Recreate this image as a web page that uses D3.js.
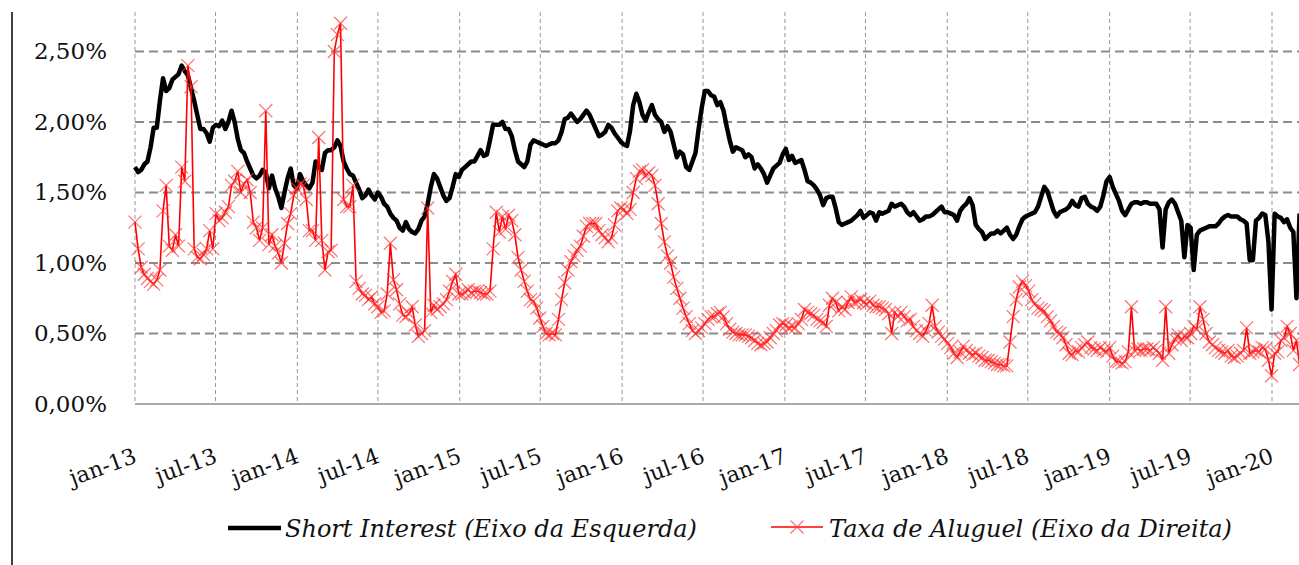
<!DOCTYPE html>
<html>
<head>
<meta charset="utf-8">
<script src="https://cdn.jsdelivr.net/npm/d3@7"></script>
<style>
  body { margin: 0; background: #fff; }
  text { font-family: "DejaVu Serif", serif; fill: #111; }
</style>
</head>
<body>
<div id="chart"></div>
<script>
// weekly observations starting at the first week of 2013
const startDate = new Date(2013, 0, 1);

// Short Interest (left axis), %
const shortInterest = [
  1.68,1.645,1.66,1.70,1.72,1.82,1.96,1.96,2.15,2.31,
  2.22,2.24,2.30,2.32,2.34,2.40,2.36,2.33,2.24,2.15,
  2.05,1.95,1.95,1.92,1.86,1.96,1.98,1.97,2.01,1.95,
  2.00,2.08,2.00,1.88,1.80,1.78,1.72,1.67,1.62,1.60,
  1.62,1.66,1.64,1.53,1.62,1.53,1.47,1.39,1.50,1.60,
  1.67,1.55,1.53,1.63,1.58,1.55,1.53,1.57,1.72,1.68,
  1.66,1.78,1.80,1.80,1.82,1.87,1.83,1.72,1.67,1.63,
  1.62,1.57,1.52,1.46,1.48,1.52,1.48,1.45,1.50,1.47,
  1.42,1.40,1.35,1.32,1.30,1.25,1.23,1.29,1.24,1.22,
  1.21,1.24,1.30,1.33,1.42,1.54,1.63,1.60,1.54,1.48,
  1.44,1.46,1.54,1.63,1.61,1.66,1.68,1.70,1.72,1.72,
  1.76,1.80,1.76,1.77,1.87,1.98,1.98,1.98,2.00,1.95,
  1.95,1.90,1.80,1.72,1.70,1.68,1.72,1.84,1.87,1.86,
  1.85,1.84,1.83,1.84,1.85,1.85,1.87,1.93,2.02,2.03,
  2.06,2.03,2.00,2.02,2.05,2.08,2.05,2.00,1.95,1.90,
  1.91,1.93,1.98,1.96,1.92,1.89,1.86,1.84,1.83,1.94,
  2.12,2.20,2.14,2.05,2.01,2.07,2.12,2.05,2.02,2.00,
  1.93,1.97,1.93,1.84,1.75,1.79,1.77,1.68,1.66,1.72,
  1.78,1.95,2.10,2.22,2.22,2.19,2.18,2.12,2.14,2.08,
  1.97,1.87,1.79,1.82,1.81,1.80,1.75,1.77,1.75,1.67,
  1.70,1.67,1.63,1.57,1.62,1.67,1.69,1.71,1.77,1.81,
  1.73,1.76,1.71,1.72,1.73,1.66,1.58,1.57,1.55,1.52,
  1.48,1.41,1.46,1.47,1.47,1.39,1.29,1.27,1.28,1.29,
  1.30,1.32,1.34,1.37,1.32,1.34,1.36,1.35,1.30,1.36,
  1.35,1.36,1.37,1.42,1.40,1.41,1.42,1.40,1.36,1.34,
  1.36,1.33,1.30,1.31,1.33,1.33,1.34,1.36,1.38,1.40,
  1.36,1.36,1.35,1.34,1.30,1.37,1.40,1.42,1.46,1.41,
  1.27,1.24,1.22,1.17,1.19,1.21,1.21,1.23,1.21,1.23,
  1.25,1.20,1.17,1.20,1.26,1.31,1.33,1.34,1.35,1.36,
  1.40,1.47,1.54,1.51,1.44,1.37,1.33,1.36,1.37,1.38,
  1.40,1.44,1.41,1.40,1.46,1.47,1.42,1.40,1.39,1.37,
  1.40,1.48,1.58,1.61,1.54,1.49,1.44,1.37,1.34,1.38,
  1.42,1.43,1.43,1.42,1.43,1.43,1.42,1.42,1.42,1.38,
  1.11,1.38,1.43,1.45,1.42,1.36,1.30,1.04,1.27,1.25,
  0.95,1.20,1.23,1.24,1.25,1.26,1.26,1.26,1.28,1.31,
  1.33,1.34,1.33,1.33,1.33,1.31,1.30,1.28,1.02,1.02,
  1.30,1.32,1.35,1.34,1.15,0.67,1.35,1.33,1.32,1.29,
  1.31,1.25,1.22,0.75,1.35
];

// Taxa de Aluguel (right axis), read against the left grid
const rentRate = [
  1.29,1.10,0.97,0.92,0.89,0.87,0.85,0.88,0.95,1.37,
  1.55,1.12,1.09,1.20,1.12,1.68,1.58,2.40,2.25,1.10,
  1.04,1.03,1.06,1.10,1.23,1.10,1.35,1.30,1.32,1.36,
  1.40,1.55,1.58,1.65,1.50,1.56,1.59,1.50,1.29,1.25,
  1.16,1.25,2.08,1.13,1.20,1.12,1.07,1.00,1.14,1.28,
  1.35,1.48,1.53,1.56,1.55,1.45,1.23,1.23,1.16,1.89,
  1.16,0.95,1.08,1.09,2.50,2.62,2.70,1.45,1.40,1.40,
  1.55,0.87,0.82,0.78,0.77,0.74,0.76,0.71,0.69,0.65,
  0.66,0.78,1.14,0.88,0.81,0.71,0.63,0.62,0.64,0.69,
  0.56,0.48,0.50,0.52,1.39,0.65,0.70,0.67,0.69,0.71,
  0.74,0.80,0.87,0.92,0.78,0.78,0.79,0.81,0.79,0.80,
  0.80,0.79,0.78,0.78,0.80,1.10,1.36,1.22,1.33,1.24,
  1.34,1.30,1.20,1.04,0.95,0.87,0.80,0.74,0.73,0.68,
  0.61,0.55,0.50,0.49,0.50,0.49,0.60,0.74,0.86,0.95,
  1.01,1.05,1.09,1.12,1.19,1.26,1.28,1.28,1.28,1.23,
  1.20,1.18,1.15,1.18,1.27,1.37,1.39,1.38,1.35,1.38,
  1.50,1.60,1.65,1.66,1.62,1.64,1.62,1.55,1.42,1.28,
  1.15,1.05,1.00,0.90,0.82,0.75,0.68,0.62,0.57,0.52,
  0.50,0.52,0.54,0.57,0.60,0.62,0.62,0.64,0.65,0.62,
  0.57,0.53,0.51,0.50,0.49,0.49,0.49,0.48,0.47,0.45,
  0.43,0.42,0.43,0.44,0.47,0.50,0.52,0.56,0.57,0.56,
  0.54,0.55,0.54,0.57,0.60,0.67,0.65,0.64,0.63,0.60,
  0.59,0.58,0.55,0.70,0.75,0.72,0.66,0.69,0.67,0.72,
  0.76,0.72,0.73,0.74,0.72,0.71,0.73,0.70,0.69,0.69,
  0.68,0.67,0.64,0.50,0.65,0.62,0.65,0.62,0.59,0.60,
  0.55,0.52,0.50,0.48,0.52,0.57,0.70,0.55,0.51,0.48,
  0.46,0.43,0.40,0.36,0.33,0.37,0.41,0.38,0.36,0.35,
  0.36,0.34,0.33,0.31,0.31,0.30,0.29,0.28,0.28,0.27,
  0.27,0.44,0.62,0.74,0.83,0.87,0.84,0.80,0.74,0.71,
  0.68,0.67,0.66,0.62,0.59,0.55,0.51,0.50,0.47,0.42,
  0.36,0.35,0.38,0.37,0.40,0.42,0.44,0.40,0.39,0.38,
  0.40,0.38,0.37,0.40,0.34,0.30,0.30,0.29,0.30,0.37,
  0.69,0.38,0.39,0.38,0.39,0.39,0.38,0.40,0.38,0.36,
  0.31,0.69,0.36,0.42,0.46,0.49,0.45,0.48,0.47,0.50,
  0.55,0.53,0.69,0.60,0.50,0.44,0.42,0.40,0.38,0.37,
  0.36,0.38,0.34,0.33,0.34,0.36,0.38,0.54,0.36,0.37,
  0.38,0.37,0.40,0.39,0.31,0.20,0.36,0.37,0.45,0.47,
  0.55,0.50,0.38,0.45,0.28
];

const yTicks = [0, 0.5, 1, 1.5, 2, 2.5];
const monthNames = ["jan","fev","mar","abr","mai","jun","jul","ago","set","out","nov","dez"];
const seriesNames = ["Short Interest (Eixo da Esquerda)", "Taxa de Aluguel (Eixo da Direita)"];

// set the dimensions and margins of the graph
const margin = { top: 12, right: 0, bottom: 161, left: 135 },
  width = 1299 - margin.left - margin.right,
  height = 565 - margin.top - margin.bottom;

const root = d3.select("#chart")
  .append("svg")
  .attr("width", 1299)
  .attr("height", 565);

// outer frame line on the left
root.append("line")
  .attr("x1", 12).attr("x2", 12)
  .attr("y1", 12).attr("y2", 565)
  .attr("stroke", "#000")
  .attr("stroke-width", 1.5);

const svg = root.append("g")
  .attr("transform", `translate(${margin.left},${margin.top})`);

const dates = shortInterest.map((d, i) => d3.timeDay.offset(startDate, 7 * i));

const x = d3.scaleTime()
  .domain([new Date(2013, 0, 1), new Date(2020, 0, 1)])
  .range([0, 1137]);
const y = d3.scaleLinear()
  .domain([0, 2.78])
  .range([height, 0]);
// right axis is cut off in the picture; same grid
const yRight = d3.scaleLinear()
  .domain([0, 2.78])
  .range([height, 0]);

const xTicks = d3.timeMonth.every(6).range(new Date(2013, 0, 1), new Date(2020, 0, 2));

// vertical grid
svg.append("g")
  .selectAll("line")
  .data(xTicks)
  .join("line")
  .attr("x1", d => x(d)).attr("x2", d => x(d))
  .attr("y1", 0).attr("y2", height)
  .attr("stroke", "#999")
  .attr("stroke-width", 1)
  .attr("stroke-dasharray", "4,3");

// horizontal grid
svg.append("g")
  .selectAll("line")
  .data(yTicks.filter(d => d > 0))
  .join("line")
  .attr("x1", 0).attr("x2", width)
  .attr("y1", d => y(d)).attr("y2", d => y(d))
  .attr("stroke", "#8c8c8c")
  .attr("stroke-width", 2)
  .attr("stroke-dasharray", "9,5");

// base line
svg.append("line")
  .attr("x1", 0).attr("x2", width)
  .attr("y1", y(0)).attr("y2", y(0))
  .attr("stroke", "#aaa")
  .attr("stroke-width", 2);

// Y axis labels
const yAxis = svg.append("g")
  .call(d3.axisLeft(y).tickValues(yTicks).tickSize(0).tickPadding(28)
    .tickFormat(d => d3.format(".2f")(d).replace(".", ",") + "%"));
yAxis.select(".domain").remove();
yAxis.selectAll("text")
  .style("font-family", '"DejaVu Serif", serif')
  .style("font-size", "23px")
  .attr("fill", "#111");

// X axis labels, rotated
svg.append("g")
  .selectAll("text")
  .data(xTicks)
  .join("text")
  .attr("transform", d => `translate(${x(d) + 3},${height + 58}) rotate(-20)`)
  .attr("text-anchor", "end")
  .style("font-size", "22px")
  .text(d => monthNames[d.getMonth()] + "-" + String(d.getFullYear()).slice(2));

// Short Interest line
svg.append("path")
  .datum(shortInterest)
  .attr("fill", "none")
  .attr("stroke", "#000")
  .attr("stroke-width", 4.5)
  .attr("stroke-linejoin", "round")
  .attr("d", d3.line()
    .x((d, i) => x(dates[i]))
    .y(d => y(d)));

// Taxa de Aluguel line
svg.append("path")
  .datum(rentRate)
  .attr("fill", "none")
  .attr("stroke", "#ff0000")
  .attr("stroke-width", 1.6)
  .attr("d", d3.line()
    .x((d, i) => x(dates[i]))
    .y(d => yRight(d)));

// x markers
const cross = "M-6.5,-6.5L6.5,6.5M-6.5,6.5L6.5,-6.5";
svg.append("g")
  .selectAll("path")
  .data(rentRate)
  .join("path")
  .attr("transform", (d, i) => `translate(${x(dates[i])},${yRight(d)})`)
  .attr("d", cross)
  .attr("fill", "none")
  .attr("stroke", "#ff3333")
  .attr("stroke-opacity", 0.7)
  .attr("stroke-width", 1.2);

// legend
const legend = root.append("g");
legend.append("line")
  .attr("x1", 228).attr("x2", 281)
  .attr("y1", 528).attr("y2", 528)
  .attr("stroke", "#000")
  .attr("stroke-width", 4.5);
legend.append("text")
  .attr("x", 285).attr("y", 537)
  .style("font-size", "24px")
  .style("font-style", "italic")
  .text(seriesNames[0]);
legend.append("line")
  .attr("x1", 771).attr("x2", 823)
  .attr("y1", 527).attr("y2", 527)
  .attr("stroke", "#ff0000")
  .attr("stroke-width", 1.6);
legend.append("path")
  .attr("transform", "translate(797,527)")
  .attr("d", cross)
  .attr("fill", "none")
  .attr("stroke", "#ff3333")
  .attr("stroke-opacity", 0.7)
  .attr("stroke-width", 1.2);
legend.append("text")
  .attr("x", 829).attr("y", 537)
  .style("font-size", "24px")
  .style("font-style", "italic")
  .text(seriesNames[1]);
</script>
</body>
</html>
